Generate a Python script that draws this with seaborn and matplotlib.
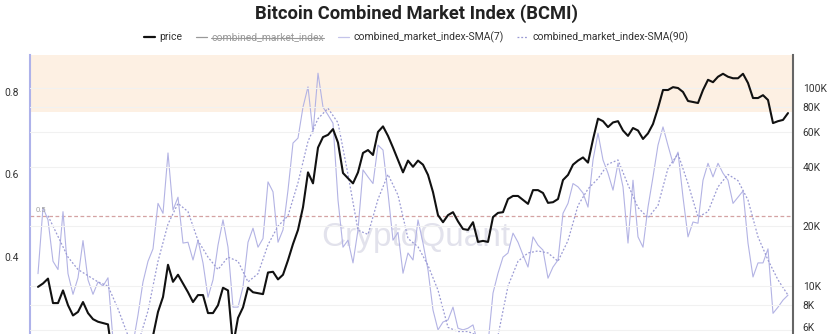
import numpy as np
import pandas as pd
import matplotlib
matplotlib.use("Agg")
import matplotlib.pyplot as plt
import seaborn as sns
from matplotlib import font_manager
from matplotlib.lines import Line2D
from matplotlib.ticker import FixedLocator, NullLocator
from matplotlib.transforms import IdentityTransform, ScaledTranslation

# ---------------- data ----------------
price_start = "2018-02-01"
price_step = "20D"
price = [
    9900, 10300, 10900, 8200, 8200, 9500, 8000, 7100, 7400, 8300,
    7300, 6800, 6600, 6500, 6400, 4200, 3700, 3600, 3500, 3900,
    3900, 4100, 5100, 5600, 7400, 8800, 12800, 10500, 11400, 10300,
    9300, 8300, 9000, 9000, 7300, 7300, 8000, 9800, 9500, 5000,
    6900, 7800, 9800, 9300, 9200, 9100, 11700, 11800, 10800, 11400,
    13500, 16300, 19200, 25000, 37500, 33000, 50000, 56500, 58000, 62000,
    53000, 37200, 35000, 33000, 37500, 47000, 48600, 45900, 60000, 64000,
    57300, 50000, 43300, 37500, 43000, 40000, 43000, 41000, 36400, 29800,
    22800, 21000, 22800, 23600, 21200, 19400, 19200, 21000, 16700, 16900,
    16700, 22300, 23400, 23600, 27500, 28500, 28500, 27200, 26000, 30500,
    30500, 29500, 26300, 26500, 27500, 34300, 36400, 41000, 43000, 44600,
    42000, 55000, 70000, 68000, 63500, 67000, 68000, 61000, 57300, 62800,
    61000, 55300, 59000, 65800, 79200, 97700, 97700, 101000, 100000, 95500,
    86000, 85000, 84000, 97700, 110000, 107000, 114000, 118000, 114000, 112000,
    112000, 118000, 106000, 89000, 89000, 92000, 87000, 66500, 68000, 69000,
    74700,
]
sma7 = [
    0.36, 0.52, 0.49, 0.39, 0.37, 0.51, 0.36, 0.31, 0.35, 0.44,
    0.345, 0.31, 0.34, 0.33, 0.35, 0.20, 0.15, 0.14, 0.15, 0.19,
    0.26, 0.34, 0.39, 0.42, 0.53, 0.506, 0.652, 0.514, 0.545, 0.434,
    0.436, 0.393, 0.441, 0.386, 0.303, 0.345, 0.429, 0.49, 0.424, 0.279,
    0.279, 0.328, 0.436, 0.47, 0.424, 0.445, 0.582, 0.558, 0.436, 0.466,
    0.562, 0.676, 0.688, 0.763, 0.812, 0.70, 0.845, 0.763, 0.744, 0.724,
    0.538, 0.424, 0.441, 0.386, 0.466, 0.611, 0.594, 0.578, 0.671, 0.659,
    0.555, 0.441, 0.46, 0.361, 0.41, 0.393, 0.49, 0.434, 0.369, 0.272,
    0.224, 0.243, 0.248, 0.279, 0.228, 0.224, 0.228, 0.236, 0.19, 0.18,
    0.19, 0.313, 0.361, 0.40, 0.41, 0.458, 0.436, 0.405, 0.376, 0.449,
    0.429, 0.417, 0.349, 0.376, 0.393, 0.506, 0.53, 0.578, 0.57, 0.555,
    0.521, 0.635, 0.70, 0.635, 0.603, 0.562, 0.627, 0.57, 0.434, 0.586,
    0.449, 0.424, 0.521, 0.594, 0.671, 0.715, 0.67, 0.627, 0.654, 0.545,
    0.449, 0.485, 0.482, 0.586, 0.627, 0.594, 0.627, 0.603, 0.586, 0.53,
    0.545, 0.56, 0.434, 0.352, 0.386, 0.386, 0.42, 0.264, 0.279, 0.296,
    0.308,
]
sma90_start = "2018-03-13"
sma90_step = "40D"
sma90 = [
    0.50, 0.45, 0.40, 0.37, 0.355, 0.34, 0.33, 0.275, 0.21, 0.19,
    0.27, 0.39, 0.48, 0.53, 0.51, 0.44, 0.40, 0.37, 0.40, 0.39,
    0.34, 0.36, 0.43, 0.475, 0.50, 0.58, 0.68, 0.735, 0.76, 0.725,
    0.60, 0.465, 0.455, 0.54, 0.60, 0.55, 0.445, 0.425, 0.38, 0.32,
    0.23, 0.22, 0.22, 0.21, 0.19, 0.21, 0.33, 0.39, 0.41, 0.415,
    0.41, 0.39, 0.44, 0.525, 0.565, 0.59, 0.625, 0.635, 0.575, 0.52,
    0.495, 0.525, 0.615, 0.65, 0.578, 0.497, 0.51, 0.57, 0.60, 0.585,
    0.538, 0.449, 0.393, 0.345, 0.308,
]
right_ticks = [100000, 80000, 60000, 40000, 20000, 10000, 8000, 6000]
right_labels = ["100K", "80K", "60K", "40K", "20K", "10K", "8K", "6K"]
left_ticks = [0.4, 0.6, 0.8]
left_labels = ["0.4", "0.6", "0.8"]
zone_low, zone_high = 0.75, 0.95
ref_level = 0.5
legend_labels = ["price", "combined_market_index",
                 "combined_market_index-SMA(7)", "combined_market_index-SMA(90)"]
title = "Bitcoin Combined Market Index (BCMI)"

assert len(price) == len(sma7), (len(price), len(sma7))

df = pd.DataFrame({
    "date": pd.date_range(price_start, periods=len(price), freq=price_step),
    "price": price,
    "sma7": sma7,
})
df90 = pd.DataFrame({
    "date": pd.date_range(sma90_start, periods=len(sma90), freq=sma90_step),
    "sma90": sma90,
})

# ---------------- style ----------------
sns.set_style("white")
names = {f.name for f in font_manager.fontManager.ttflist}
NARROW = "Liberation Sans Narrow" in names
if NARROW:
    FAM = ["Liberation Sans Narrow", "DejaVu Sans"]
    fs_title, fs_leg, fs_tick = 15, 9, 8.5
else:
    FAM = ["Roboto", "DejaVu Sans"]
    fs_title, fs_leg, fs_tick = 13.2, 7.5, 7.4
plt.rcParams["font.family"] = FAM

W, H = 829, 334
fig = plt.figure(figsize=(W / 100, H / 100), dpi=100)
L, R, T = 30, 793, 55
ax = fig.add_axes([L / W, 0, (R - L) / W, (H - T) / H])
ax2 = ax.twinx()

# zone band + reference line
ax.axhspan(zone_low, zone_high, color="#fdf0e3", zorder=0, lw=0)
ax.axhline(ref_level, color="#d4a3a3", lw=0.9, ls=(0, (3, 2)), zorder=1)

sns.lineplot(data=df, x="date", y="sma7", ax=ax, color="#b3b3e4",
             linewidth=0.8, legend=False, zorder=2)
sns.lineplot(data=df90, x="date", y="sma90", ax=ax, color="#9a9ad4",
             linewidth=0.9, linestyle=(0, (1.5, 1.5)), legend=False, zorder=2)
sns.lineplot(data=df, x="date", y="price", ax=ax2, color="#111111",
             linewidth=1.5, legend=False, zorder=3)

# limits
start = pd.Timestamp(price_start)
ax.set_xlim(start - pd.Timedelta(days=32), start + pd.Timedelta(days=3020))
ax.set_ylim(0.214, 0.889)
ax2.set_yscale("log")
ax2.set_ylim(5723, 146800)

# left axis
ax.set_yticks(left_ticks)
ax.set_yticklabels(left_labels)
ax.tick_params(axis="y", length=0, pad=8, labelsize=fs_tick, labelcolor="#333333")
ax.set_xticks([])
ax.set_xlabel("")
ax.set_ylabel("")
for s in ["top", "right", "bottom"]:
    ax.spines[s].set_visible(False)
ax.spines["left"].set_color("#aeb2ea")
ax.spines["left"].set_linewidth(1.5)

# right axis
ax2.yaxis.set_major_locator(FixedLocator(right_ticks))
ax2.yaxis.set_minor_locator(NullLocator())
ax2.set_yticklabels(right_labels)
ax2.tick_params(axis="y", length=0, pad=7, labelsize=fs_tick, labelcolor="#333333")
ax2.set_ylabel("")
ax2.grid(axis="y", color="#f1f1f1", lw=0.8)
ax2.set_axisbelow(True)
for s in ["top", "left", "bottom"]:
    ax2.spines[s].set_visible(False)
ax2.spines["right"].set_color("#666666")
ax2.spines["right"].set_linewidth(1.5)

# 0.5 label + watermark
ax.text(0.008, ref_level + 0.006, "0.5", transform=ax.get_yaxis_transform(),
        fontsize=5.5, color="#a0a0a0", va="bottom", ha="left")
ax.text(0.505, 0.345, "CryptoQuant", transform=ax.transAxes, fontsize=24,
        color="#e2e2ec", ha="center", va="center", zorder=1,
        family=["Liberation Sans", "DejaVu Sans"])

# title
fig.text(0.503, 1 - 14 / H, title, ha="center", va="center",
         fontsize=fs_title, fontweight="bold", color="#222222")

# legend
handles = [
    Line2D([], [], color="#111111", lw=1.6),
    Line2D([], [], color="#999999", lw=0.9),
    Line2D([], [], color="#c4c4ea", lw=0.9),
    Line2D([], [], color="#9a9ad4", lw=0.9, ls=(0, (1.5, 1.5))),
]
leg = fig.legend(handles, legend_labels, loc="center",
                 bbox_to_anchor=(0.502, 1 - 37 / H), ncol=4, frameon=False,
                 fontsize=fs_leg, handlelength=1.1, handletextpad=0.4,
                 columnspacing=1.3, borderpad=0, borderaxespad=0)
for i, t in enumerate(leg.get_texts()):
    t.set_color("#999999" if i == 1 else "#333333")

fig.canvas.draw()
bb = leg.get_texts()[1].get_window_extent()
ym = bb.y0 + bb.height * 0.42
fig.add_artist(Line2D([bb.x0, bb.x1], [ym, ym], transform=IdentityTransform(),
                      color="#999999", lw=0.8))

# nudge the lowest right-hand label so it stays inside the crop, as in the reference
last = ax2.get_yticklabels()[-1]
last.set_transform(last.get_transform() + ScaledTranslation(0, 3 / 100, fig.dpi_scale_trans))

fig.savefig("out.png", dpi=100)
